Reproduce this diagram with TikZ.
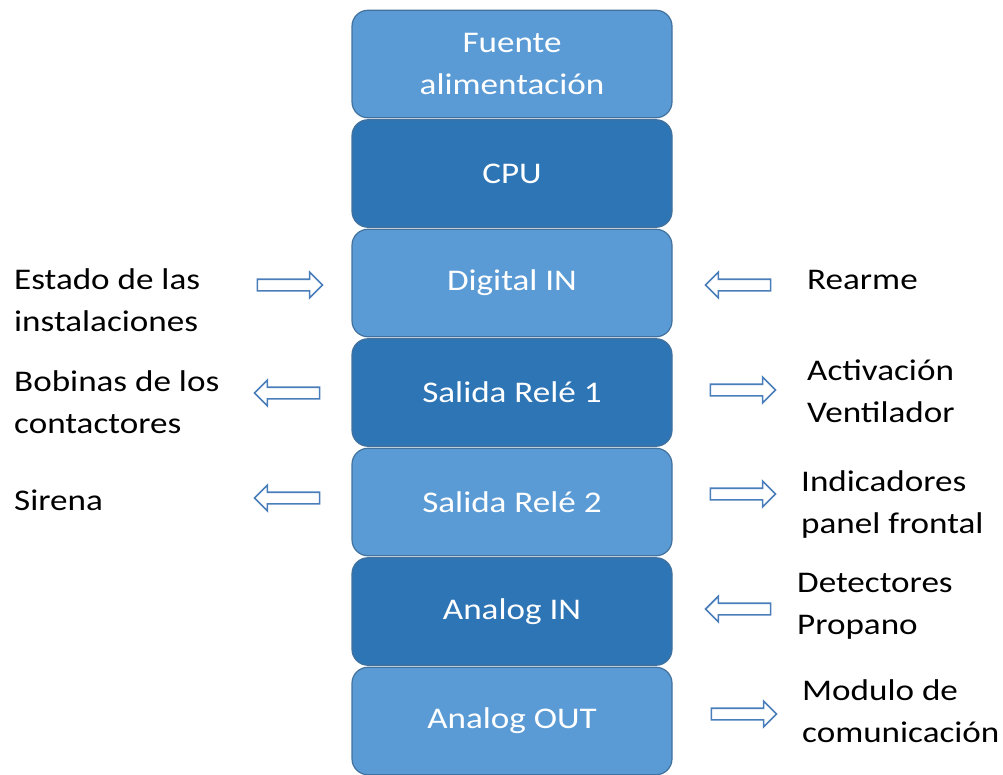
\documentclass[tikz,border=0pt]{standalone}
\usepackage{fontspec}
\setmainfont{Carlito}[FakeStretch=1.17]
\usetikzlibrary{positioning,shapes.arrows}
\definecolor{boxlight}{HTML}{5B9BD5}
\definecolor{boxdark}{HTML}{2E75B6}
\definecolor{boxline}{HTML}{41719C}
\definecolor{arrowline}{HTML}{4A7EBB}

\begin{document}
\begin{tikzpicture}[
	x=1pt, y=-1pt,
	every node/.style={font=\fontsize{30}{42}\selectfont},
	lightbox/.style={rectangle, rounded corners=16pt, draw=boxline, line width=1.2pt, fill=boxlight, text=white, minimum width=320pt, minimum height=107.5pt, align=center},
	darkbox/.style={lightbox, fill=boxdark},
	blockarrow/.style={single arrow, draw=arrowline, fill=white, line width=1.6pt, minimum height=65pt, inner sep=0pt, inner ysep=5pt, single arrow head extend=7pt, single arrow tip angle=90, single arrow head indent=0pt},
	leftarrow/.style={blockarrow, shape border rotate=180},
	label/.style={inner sep=0pt, anchor=west, align=left},
	node distance=0.8pt
	]
	\useasboundingbox (0,0) rectangle (1003,774);
	%Nodes
	\node[lightbox](Fuente) at (512,64) {Fuente\\alimentación};
	\node[darkbox](CPU)[below=of Fuente] {CPU};
	\node[lightbox](DigitalIn)[below=of CPU] {Digital IN};
	\node[darkbox](ReleA)[below=of DigitalIn] {Salida Relé 1};
	\node[lightbox](ReleB)[below=of ReleA] {Salida Relé 2};
	\node[darkbox](AnalogIn)[below=of ReleB] {Analog IN};
	\node[lightbox](AnalogOut)[below=of AnalogIn] {Analog OUT};
	%Arrows
	\node[blockarrow](ArrEstado) at (287,285) {};
	\node[leftarrow](ArrBobinas) at (290,393) {};
	\node[leftarrow](ArrSirena) at (290,498) {};
	\node[leftarrow](ArrRearme) at (741,285) {};
	\node[blockarrow](ArrActivacion) at (740,390) {};
	\node[blockarrow](ArrIndicadores) at (740,494) {};
	\node[leftarrow](ArrDetectores) at (741,609) {};
	\node[blockarrow](ArrModulo) at (741,714) {};
	%Labels
	\node[label](Estado) at (14,300) {Estado de las\\instalaciones};
	\node[label](Bobinas) at (14,402) {Bobinas de los\\contactores};
	\node[label](Sirena) at (14,500) {Sirena};
	\node[label](Rearme) at (807,280) {Rearme};
	\node[label](Activacion) at (807,391) {Activación\\Ventilador};
	\node[label](Indicadores) at (801,504) {Indicadores\\panel frontal};
	\node[label](Detectores) at (797,606) {Detectores\\Propano};
	\node[label](Modulo) at (802,711) {Modulo de\\comunicación};
\end{tikzpicture}
\end{document}
